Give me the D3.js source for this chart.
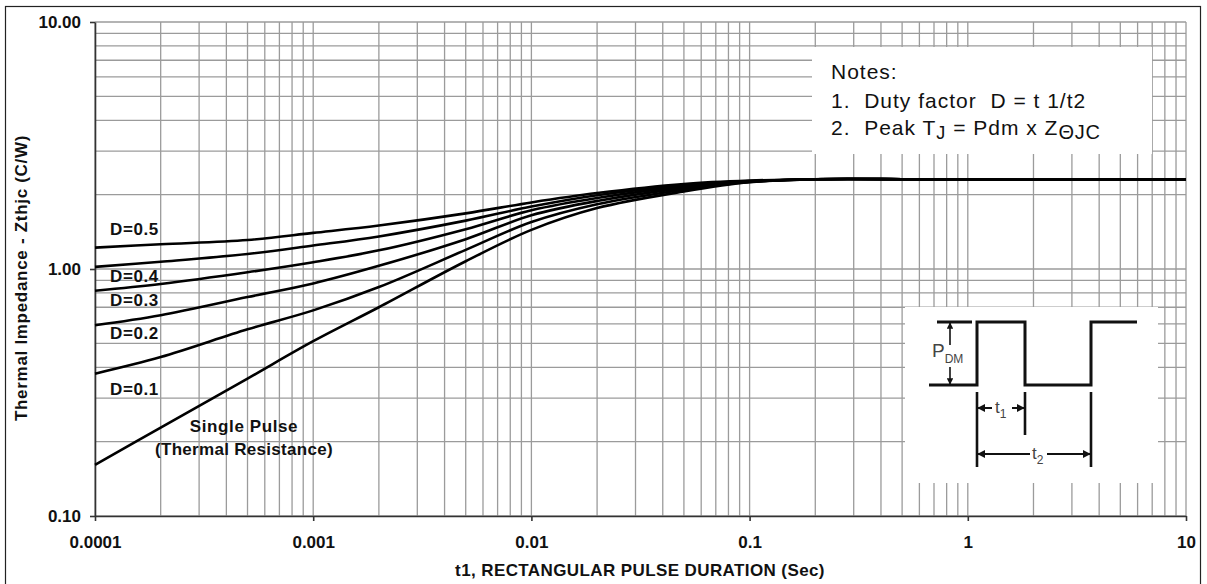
<html>
<head>
<script src="https://d3js.org/d3.v7.min.js"></script>
<style>
  body { margin: 0; background: #fff; }
  text { font-family: Arial, "Liberation Sans", sans-serif; }
  .grid line { stroke: #9b9b9b; stroke-width: 1.3; }
  .axis path, .axis line { stroke: #333; stroke-width: 1.6; }
  .axis text { font-size: 17px; font-weight: bold; fill: #111; }
  .lbl { font-size: 17px; font-weight: bold; fill: #111; }
</style>
</head>
<body>
<svg width="1207" height="584"></svg>
<script>
// pulse duration (s)
const tValues = [0.0001, 0.0002, 0.0005, 0.001, 0.002, 0.005, 0.01, 0.02, 0.05, 0.1, 0.2, 0.5, 1, 10];
// thermal impedance (C/W) per duty factor
const d05 = [1.22, 1.26, 1.31, 1.40, 1.50, 1.68, 1.86, 2.03, 2.21, 2.28, 2.31, 2.31, 2.30, 2.30];
const d04 = [1.02, 1.07, 1.15, 1.245, 1.355, 1.57, 1.79, 1.99, 2.18, 2.27, 2.31, 2.31, 2.30, 2.30];
const d03 = [0.817, 0.87, 0.97, 1.065, 1.19, 1.45, 1.73, 1.94, 2.155, 2.26, 2.31, 2.31, 2.30, 2.30];
const d02 = [0.592, 0.65, 0.77, 0.874, 1.03, 1.32, 1.65, 1.885, 2.125, 2.255, 2.31, 2.31, 2.30, 2.30];
const d01 = [0.377, 0.44, 0.57, 0.68, 0.845, 1.195, 1.55, 1.83, 2.095, 2.25, 2.31, 2.31, 2.30, 2.30];
const single = [0.161, 0.228, 0.36, 0.51, 0.70, 1.075, 1.44, 1.765, 2.06, 2.245, 2.31, 2.31, 2.30, 2.30];
const seriesList = [d05, d04, d03, d02, d01, single];

const xTicks = [0.0001, 0.001, 0.01, 0.1, 1, 10];
const xTickLabels = ["0.0001", "0.001", "0.01", "0.1", "1", "10"];
const yTicks = [0.1, 1, 10];
const yTickLabels = ["0.10", "1.00", "10.00"];
const curveLabels = ["D=0.5", "D=0.4", "D=0.3", "D=0.2", "D=0.1"];

const svg = d3.select("svg");

const x = d3.scaleLog().domain([0.0001, 10]).range([95, 1186]);
const y = d3.scaleLog().domain([0.1, 10]).range([516, 22]);

// outer frame
svg.append("rect").attr("x", 5.5).attr("y", 6.5).attr("width", 1195).attr("height", 590)
  .attr("fill", "none").attr("stroke", "#222").attr("stroke-width", 1.2);

// grid at 1..9 of each decade
function gridVals(lo, hi) {
  const v = [];
  for (let e = lo; e < hi; e++) for (let k = 1; k <= 9; k++) v.push(k * Math.pow(10, e));
  v.push(Math.pow(10, hi));
  return v;
}
const grid = svg.append("g").attr("class", "grid");
grid.selectAll(".vx").data(gridVals(-4, 1)).enter().append("line")
  .attr("x1", d => x(d)).attr("x2", d => x(d)).attr("y1", y(10)).attr("y2", y(0.1));
grid.selectAll(".hy").data(gridVals(-1, 1)).enter().append("line")
  .attr("x1", x(0.0001)).attr("x2", x(10)).attr("y1", d => y(d)).attr("y2", d => y(d));

// white boxes over the grid
svg.append("rect").attr("x", 812).attr("y", 47).attr("width", 340).attr("height", 107).attr("fill", "#fff");
svg.append("rect").attr("x", 905).attr("y", 307).attr("width", 253).attr("height", 176).attr("fill", "#fff");

// axes
svg.append("g").attr("class", "axis")
  .attr("transform", "translate(" + x(0.0001) + ",0)")
  .call(d3.axisLeft(y).tickValues(yTicks).tickSize(5).tickSizeOuter(0)
    .tickFormat((d, i) => yTickLabels[i]))
  .call(g => g.selectAll("text").attr("x", -14).attr("dy", "0.35em"));

svg.append("g").attr("class", "axis")
  .attr("transform", "translate(0," + y(0.1) + ")")
  .call(d3.axisBottom(x).tickValues(xTicks).tickSize(5).tickSizeOuter(0)
    .tickFormat((d, i) => xTickLabels[i]))
  .call(g => g.selectAll("text").attr("y", 20).attr("dy", "0.71em"));

// axis titles
svg.append("text").attr("class", "lbl")
  .attr("x", 640).attr("y", 576).attr("text-anchor", "middle")
  .style("letter-spacing", "0.4px")
  .text("t1, RECTANGULAR PULSE DURATION (Sec)");
svg.append("text").attr("class", "lbl")
  .attr("transform", "translate(27,278) rotate(-90)")
  .attr("text-anchor", "middle")
  .style("letter-spacing", "0.7px")
  .text("Thermal Impedance - Zthjc (C/W)");

// curves
const line = d3.line()
  .x((d, i) => x(tValues[i]))
  .y(d => y(d))
  .curve(d3.curveCatmullRom.alpha(0.5));
svg.append("g").selectAll("path").data(seriesList).enter().append("path")
  .attr("d", line)
  .attr("fill", "none").attr("stroke", "#000").attr("stroke-width", 2.6)
  .attr("stroke-linejoin", "round");

// curve labels
const labelBase = [235, 282, 306, 339, 395];
svg.append("g").selectAll("text").data(curveLabels).enter().append("text")
  .attr("class", "lbl").attr("x", 110).attr("y", (d, i) => labelBase[i])
  .style("letter-spacing", "0.6px")
  .text(d => d);
svg.append("text").attr("class", "lbl").attr("x", 244).attr("y", 432)
  .attr("text-anchor", "middle").style("letter-spacing", "0.6px").text("Single Pulse");
svg.append("text").attr("class", "lbl").attr("x", 244).attr("y", 455)
  .attr("text-anchor", "middle").style("letter-spacing", "0.3px").text("(Thermal Resistance)");

// notes
const nb = "\u00a0";
const notes = svg.append("g").style("font-size", "21px").style("fill", "#111")
  .style("letter-spacing", "1px");
notes.append("text").attr("x", 831).attr("y", 79).text("Notes:");
notes.append("text").attr("x", 831).attr("y", 108).text("1." + nb + " Duty factor" + nb + " D = t 1/t2");
const n3 = notes.append("text").attr("x", 831).attr("y", 135);
n3.append("tspan").text("2." + nb + " Peak T");
n3.append("tspan").attr("dy", 4).style("font-size", "18px").text("J");
n3.append("tspan").attr("dy", -4).text(" = Pdm x Z");
n3.append("tspan").attr("dy", 4).style("font-size", "20px").style("letter-spacing", "0.8px").text("\u0398JC");

// inset pulse diagram
const defs = svg.append("defs");
defs.append("marker").attr("id", "ah").attr("viewBox", "0 0 10 10").attr("refX", 9).attr("refY", 5)
  .attr("markerWidth", 4).attr("markerHeight", 4).attr("orient", "auto-start-reverse")
  .append("path").attr("d", "M0,0 L10,5 L0,10 z").attr("fill", "#111");
const ins = svg.append("g").attr("fill", "none").attr("stroke", "#111");
ins.append("path").attr("d", "M937,322 H972").attr("stroke-width", 3);
ins.append("path").attr("d", "M929,385 H977 V322 H1025 V385 H1091 V322 H1137").attr("stroke-width", 3);
ins.append("path").attr("d", "M977,392 V467 M1025,392 V435 M1091,392 V467").attr("stroke-width", 2.6);
ins.append("path").attr("d", "M950,345 V323").attr("stroke-width", 1.6).attr("marker-end", "url(#ah)");
ins.append("path").attr("d", "M950,367 V384").attr("stroke-width", 1.6).attr("marker-end", "url(#ah)");
ins.append("path").attr("d", "M992,408 H978").attr("stroke-width", 2).attr("marker-end", "url(#ah)");
ins.append("path").attr("d", "M1012,408 H1024").attr("stroke-width", 2).attr("marker-end", "url(#ah)");
ins.append("path").attr("d", "M1030,454 H978").attr("stroke-width", 2).attr("marker-end", "url(#ah)");
ins.append("path").attr("d", "M1047,454 H1090").attr("stroke-width", 2).attr("marker-end", "url(#ah)");
const it = svg.append("g").style("fill", "#444");
const pt = it.append("text").attr("x", 932).attr("y", 357).style("font-size", "19px");
pt.append("tspan").text("P");
pt.append("tspan").attr("dy", 6).style("font-size", "12px").text("DM");
const t1 = it.append("text").attr("x", 995).attr("y", 413).style("font-size", "17px");
t1.append("tspan").text("t");
t1.append("tspan").attr("dy", 5).style("font-size", "12px").text("1");
const t2 = it.append("text").attr("x", 1032).attr("y", 459).style("font-size", "17px");
t2.append("tspan").text("t");
t2.append("tspan").attr("dy", 5).style("font-size", "12px").text("2");
</script>
</body>
</html>
